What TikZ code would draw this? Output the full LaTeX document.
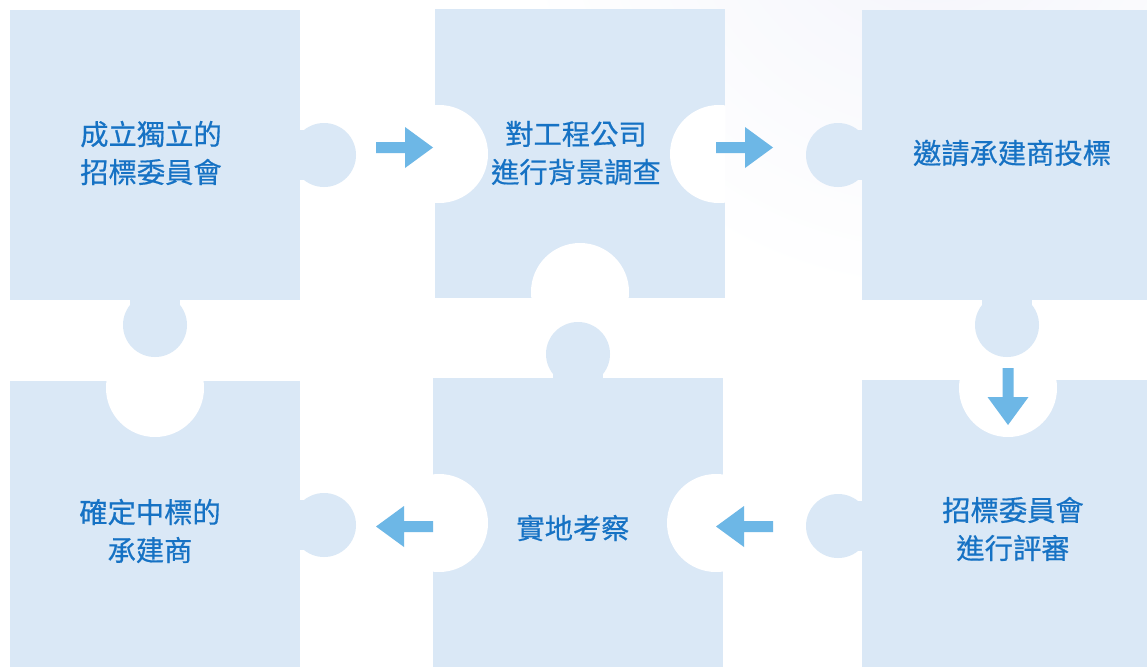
\documentclass[tikz,border=0pt]{standalone}
\usepackage{fontspec}
\newfontfamily\cjk[FakeBold=0.5]{Noto Sans CJK TC}
\definecolor{piecec}{HTML}{DAE8F6}
\definecolor{arrowc}{HTML}{6DB7E6}
\definecolor{txtc}{HTML}{1672C4}
\definecolor{tintc}{HTML}{F3F4FB}
\tikzset{
  piecebox/.style={fill=piecec, draw=none, anchor=north west, inner sep=0pt},
  lbl/.style={text=txtc, font=\cjk\fontsize{28.3}{38}\selectfont, align=center, inner sep=0pt},
  blockarrow/.pic={\fill[arrowc] (0,-5.5) -- (29,-5.5) -- (29,-20.5) -- (57,0) -- (29,20.5) -- (29,5.5) -- (0,5.5) -- cycle;}
}
\newcommand\tabH[3]{\fill[piecec] (#3,#2) circle (32pt); \fill[piecec] (#1,#2-25) rectangle (#3,#2+25);}
\newcommand\tabV[3]{\fill[piecec] (#2,#3) circle (32pt); \fill[piecec] (#2-25,#1) rectangle (#2+25,#3);}
\newcommand\holein[3]{\begin{scope}\clip (#1.north west) rectangle (#1.south east); \fill[white] (#2,#3) circle (49pt);\end{scope}}
\begin{document}
\begin{tikzpicture}[x=1pt,y=-1pt]
\useasboundingbox (0,0) rectangle (1147,667);
\fill[white] (0,0) rectangle (1147,667);
\begin{scope}
\clip (0,0) rectangle (1147,667);
\shade[inner color=tintc, outer color=white] (930,-120) circle (420pt);
\end{scope}
% pieces
\node[piecebox, minimum width=290pt, minimum height=290pt] (p1) at (10,10) {};
\node[piecebox, minimum width=290pt, minimum height=289pt] (p2) at (435,9) {};
\node[piecebox, minimum width=285pt, minimum height=290pt] (p3) at (862,10) {};
\node[piecebox, minimum width=290pt, minimum height=286pt] (p4) at (10,381) {};
\node[piecebox, minimum width=290pt, minimum height=289pt] (p5) at (433,378) {};
\node[piecebox, minimum width=285pt, minimum height=287pt] (p6) at (862,380) {};
% holes
\holein{p2}{439}{154}
\holein{p2}{719}{154}
\holein{p2}{580}{292}
\holein{p4}{155}{388}
\holein{p5}{439}{523}
\holein{p5}{716}{523}
\holein{p6}{1008}{388}
% tabs
\tabH{300}{155}{324}
\tabV{300}{155}{325}
\tabH{862}{155}{838}
\tabV{300}{1007}{325}
\tabV{378}{578}{354}
\tabH{862}{526}{838}
\tabH{300}{525}{324}
% labels
\node[lbl] (t1) at (151,153) {成立獨立的\\招標委員會};
\node[lbl] (t2) at (576,153) {對工程公司\\進行背景調查};
\node[lbl] (t3) at (1012,153) {邀請承建商投標};
\node[lbl] (t6) at (1013,529) {招標委員會\\進行評審};
\node[lbl] (t5) at (573,528) {實地考察};
\node[lbl] (t4) at (150,531) {確定中標的\\承建商};
% arrows
\pic at (376,147.5) {blockarrow};
\pic at (716,147.5) {blockarrow};
\pic[rotate=-90] at (1008,368) {blockarrow};
\pic[rotate=180] at (773,526.5) {blockarrow};
\pic[rotate=180] at (433,526.5) {blockarrow};
\end{tikzpicture}
\end{document}
